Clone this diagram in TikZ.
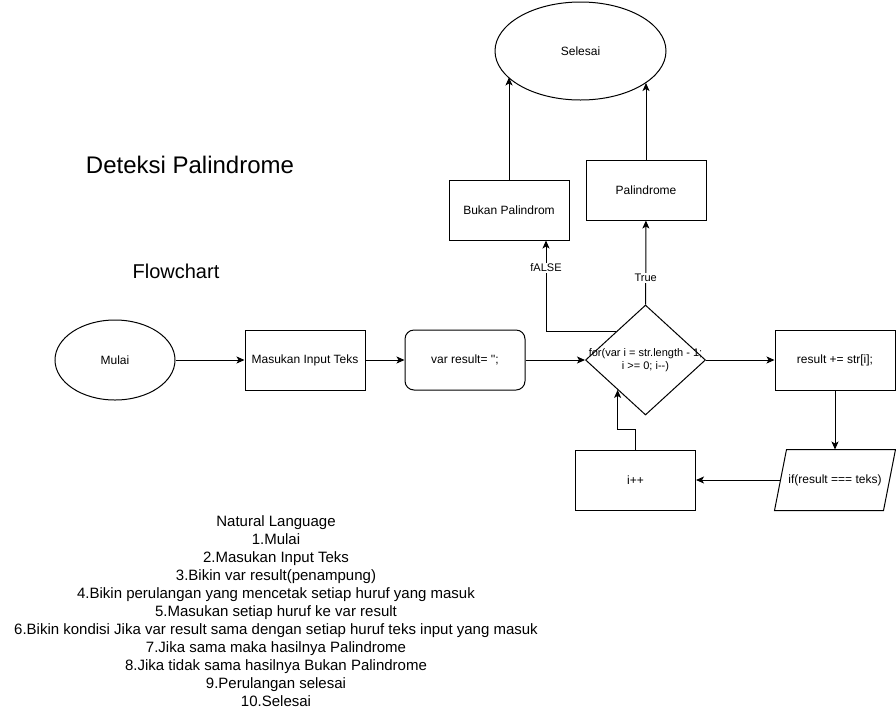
\documentclass[tikz,border=0pt]{standalone}
\usepackage{fontspec}
\setmainfont{Liberation Sans}
\usetikzlibrary{shapes.geometric,arrows.meta}

\tikzset{
    proc/.style={draw, line width=1pt, minimum width=120pt, minimum height=60pt, inner sep=0pt, font=\fontsize{12}{14}\selectfont},
    term/.style={draw, ellipse, line width=1pt, inner sep=0pt, font=\fontsize{12}{14}\selectfont},
    arr/.style={draw, line width=1pt, -{Stealth[length=8pt,width=7pt,inset=2pt]}},
    lbl/.style={fill=white, inner sep=1pt, font=\fontsize{11}{13}\selectfont},
}

\begin{document}
\begin{tikzpicture}[x=1pt, y=-1pt]
    \useasboundingbox[fill=white] (0,0) rectangle (896,716);

    % Titles
    \node[font=\fontsize{24}{28}\selectfont] (title) at (190,165) {Deteksi Palindrome};
    \node[font=\fontsize{20}{24}\selectfont] (sub) at (176,271) {Flowchart};

    % Main flow
    \node[term, minimum width=120pt, minimum height=80pt] (mulai) at (115,360) {Mulai};
    \node[proc] (input) at (305,360) {Masukan Input Teks};
    \node[proc, rounded corners=9pt] (var) at (465,360) {var result= \textquotesingle\textquotesingle;};
    \node[draw, diamond, line width=1pt, minimum width=120pt, minimum height=110pt, inner sep=0pt,
          label={[align=center, font=\fontsize{11}{13}\selectfont]center:for(var i = str.length - 1;\\ i >= 0; i-{}-)}] (loop) at (645.5,360) {};
    \node[proc] (add) at (835,360) {result += str[i];};
    \node[proc, draw=none] (cek) at (835,480) {if(result === teks)};
    \draw[line width=1pt] (cek.south west) -- ([xshift=12pt]cek.north west) -- (cek.north east)
        -- ([xshift=-12pt]cek.south east) -- cycle;
    \node[proc] (inc) at (635.5,480) {i++};

    % Results
    \node[proc] (bukan) at (509,210) {Bukan Palindrom};
    \node[proc] (palin) at (646,190) {Palindrome};
    \node[term, minimum width=171pt, minimum height=98pt] (selesai) at (580.5,51) {Selesai};

    % Connectors
    \draw[arr] (mulai) -- (input);
    \draw[arr] (input) -- (var);
    \draw[arr] (var) -- (loop);
    \draw[arr] (loop) -- (add);
    \draw[arr] (add) -- (cek);
    \draw[arr] ([xshift=6pt]cek.west) -- (inc);
    \draw[arr] (inc.north) -- ++(0,-20) -| (loop.227);
    \draw[arr] (loop.136) -| node[lbl, pos=0.85] {fALSE} ([xshift=37pt]bukan.south);
    \draw[arr] (loop) -- node[lbl, pos=0.32] {True} (palin);
    \draw[arr] (bukan.north) -- (bukan.north |- selesai.200);
    \draw[arr] (palin.north) -- (palin.north |- selesai.334);

    % Natural language steps
    \node[align=center, font=\fontsize{15}{18}\selectfont] (nl) at (276,611) {Natural Language\\
        1.Mulai\\
        2.Masukan Input Teks\\
        3.Bikin var result(penampung)\\
        4.Bikin perulangan yang mencetak setiap huruf yang masuk\\
        5.Masukan setiap huruf ke var result\\
        6.Bikin kondisi Jika var result sama dengan setiap huruf teks input yang masuk\\
        7.Jika sama maka hasilnya Palindrome\\
        8.Jika tidak sama hasilnya Bukan Palindrome\\
        9.Perulangan selesai\\
        10.Selesai};
\end{tikzpicture}
\end{document}
